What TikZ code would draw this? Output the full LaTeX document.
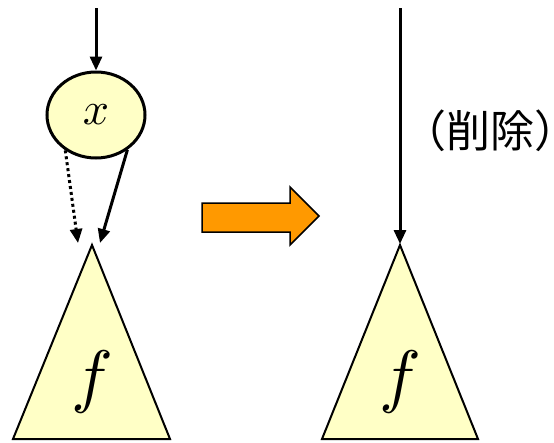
\documentclass[tikz,border=0pt]{standalone}
\usepackage{fontspec}
\newfontfamily\cjk{Noto Sans CJK JP}
\usetikzlibrary{shapes.geometric,arrows.meta}
\definecolor{paleyellow}{HTML}{FFFFC6}
\definecolor{arroworange}{HTML}{FF9900}
\tikzset{
  ptr/.style={line width=3pt,-{Triangle[length=14pt,width=12pt]}},
  tri/.style={draw=black,line width=2pt,fill=paleyellow,line join=miter},
  ellnode/.style={ellipse,draw=black,line width=3pt,fill=paleyellow,minimum width=98pt,minimum height=86pt,inner sep=0pt}
}
\begin{document}
\begin{tikzpicture}[x=1pt,y=-1pt]
\useasboundingbox (0,0) rectangle (554,442);
% left triangle
\draw[tri] (92,245) -- (170,439) -- (13,439) -- cycle;
\coordinate (ltl) at (78,243);
\coordinate (ltr) at (100,243);
\node (lf) at (92,382) {\scalebox{7}{$f$}};
% ellipse
\node[ellnode] (x) at (96,115) {\raisebox{-3pt}{\scalebox{4.6}{$x$}}};
\coordinate (ltop) at (96,8);
\draw[ptr] (ltop) -- (x.north);
\draw[ptr,dash pattern=on 3pt off 3pt] (x.229) -- (ltl);
\draw[ptr] (x.-48) -- (ltr);
% orange arrow
\draw[line width=1.5pt,fill=arroworange,line join=miter] (202,203) -- (290,203) -- (290,187) -- (319,216) -- (290,245) -- (290,232) -- (202,232) -- cycle;
% right triangle
\draw[tri] (400,245) -- (478,439) -- (322,439) -- cycle;
\coordinate (rapex) at (400,244);
\node (rf) at (400,382) {\scalebox{7}{$f$}};
\coordinate (rtop) at (400,8);
\draw[ptr] (rtop) -- (rapex);
\node[anchor=west,inner sep=0pt] (del) at (402,131) {\cjk\fontsize{44}{44}\selectfont （削除）\kern-0.56em};
\end{tikzpicture}
\end{document}
